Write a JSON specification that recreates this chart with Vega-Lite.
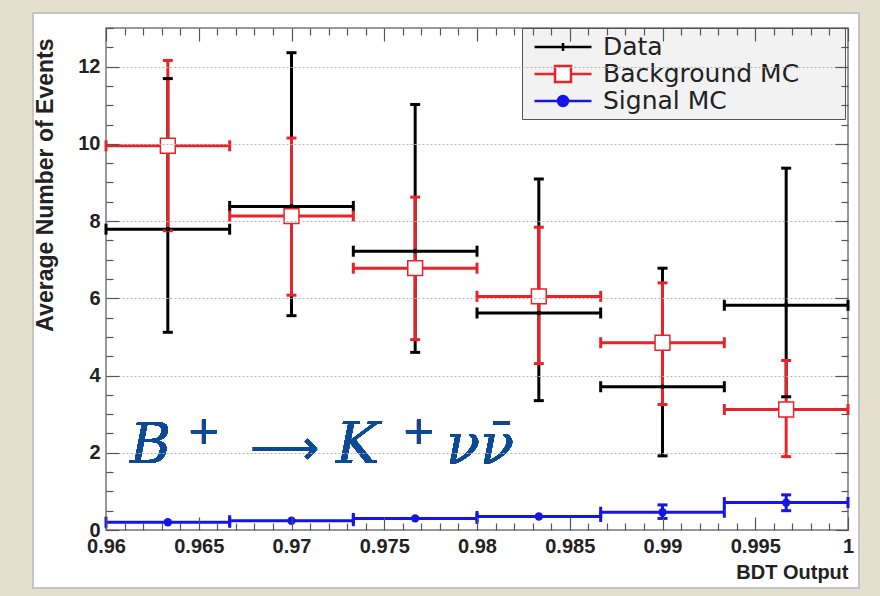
{
  "$schema": "https://vega.github.io/schema/vega-lite/v6.json",
  "width": 742,
  "height": 502,
  "autosize": {"type": "none"},
  "padding": {"left": 106, "top": 28, "right": 32, "bottom": 66},
  "background": "#ffffff",
  "config": {"view": {"stroke": "#777777", "strokeWidth": 1.5}},
  "data": {"values": [
    {"s": "Data", "x": 0.963333, "xlo": 0.96, "xhi": 0.966667, "y": 7.79, "ylo": 5.12, "yhi": 11.69},
    {"s": "Data", "x": 0.97, "xlo": 0.966667, "xhi": 0.973333, "y": 8.38, "ylo": 5.55, "yhi": 12.36},
    {"s": "Data", "x": 0.976667, "xlo": 0.973333, "xhi": 0.98, "y": 7.22, "ylo": 4.6, "yhi": 11.02},
    {"s": "Data", "x": 0.983333, "xlo": 0.98, "xhi": 0.986667, "y": 5.62, "ylo": 3.35, "yhi": 9.09},
    {"s": "Data", "x": 0.99, "xlo": 0.986667, "xhi": 0.993333, "y": 3.71, "ylo": 1.92, "yhi": 6.78},
    {"s": "Data", "x": 0.996667, "xlo": 0.993333, "xhi": 1.0, "y": 5.82, "ylo": 3.45, "yhi": 9.37},
    {"s": "Background MC", "x": 0.963333, "xlo": 0.96, "xhi": 0.966667, "y": 9.95, "ylo": 7.75, "yhi": 12.16},
    {"s": "Background MC", "x": 0.97, "xlo": 0.966667, "xhi": 0.973333, "y": 8.13, "ylo": 6.08, "yhi": 10.15},
    {"s": "Background MC", "x": 0.976667, "xlo": 0.973333, "xhi": 0.98, "y": 6.78, "ylo": 4.93, "yhi": 8.62},
    {"s": "Background MC", "x": 0.983333, "xlo": 0.98, "xhi": 0.986667, "y": 6.05, "ylo": 4.31, "yhi": 7.84},
    {"s": "Background MC", "x": 0.99, "xlo": 0.986667, "xhi": 0.993333, "y": 4.85, "ylo": 3.25, "yhi": 6.4},
    {"s": "Background MC", "x": 0.996667, "xlo": 0.993333, "xhi": 1.0, "y": 3.12, "ylo": 1.9, "yhi": 4.39},
    {"s": "Signal MC", "x": 0.963333, "xlo": 0.96, "xhi": 0.966667, "y": 0.2, "ylo": 0.17, "yhi": 0.23},
    {"s": "Signal MC", "x": 0.97, "xlo": 0.966667, "xhi": 0.973333, "y": 0.24, "ylo": 0.21, "yhi": 0.27},
    {"s": "Signal MC", "x": 0.976667, "xlo": 0.973333, "xhi": 0.98, "y": 0.3, "ylo": 0.27, "yhi": 0.33},
    {"s": "Signal MC", "x": 0.983333, "xlo": 0.98, "xhi": 0.986667, "y": 0.35, "ylo": 0.32, "yhi": 0.38},
    {"s": "Signal MC", "x": 0.99, "xlo": 0.986667, "xhi": 0.993333, "y": 0.46, "ylo": 0.3, "yhi": 0.65},
    {"s": "Signal MC", "x": 0.996667, "xlo": 0.993333, "xhi": 1.0, "y": 0.71, "ylo": 0.5, "yhi": 0.91}
  ]},
  "resolve": {"axis": {"x": "independent", "y": "independent"}},
  "layer": [
    {
      "mark": {"type": "rule", "strokeWidth": 3},
      "encoding": {
        "x": {"field": "xlo", "type": "quantitative",
          "scale": {"domain": [0.96, 1.0], "nice": false, "zero": false},
          "axis": {"orient": "bottom", "zindex": 1, "domain": false, "grid": false,
            "values": [0.96,0.961,0.962,0.963,0.964,0.965,0.966,0.967,0.968,0.969,0.97,0.971,0.972,0.973,0.974,0.975,0.976,0.977,0.978,0.979,0.98,0.981,0.982,0.983,0.984,0.985,0.986,0.987,0.988,0.989,0.99,0.991,0.992,0.993,0.994,0.995,0.996,0.997,0.998,0.999,1.0],
            "labelExpr": "abs(datum.value*200-round(datum.value*200))<0.01 ? format(datum.value, '~g') : ''",
            "labelOverlap": false, "labelFlush": false,
            "labelFont": "Liberation Sans", "labelFontWeight": "bold", "labelFontSize": 20, "labelColor": "#222222", "labelPadding": 19,
            "tickColor": "#555555", "tickWidth": 1.2,
            "tickSize": {"condition": {"test": "abs(datum.value*200-round(datum.value*200))<0.01", "value": -13}, "value": -7},
            "title": "BDT Output", "titleFont": "Liberation Sans", "titleFontWeight": "bold", "titleFontSize": 20, "titleColor": "#222222",
            "titleAnchor": "end", "titleAlign": "right", "titleBaseline": "middle", "titleX": 742, "titleY": 42}},
        "x2": {"field": "xhi"},
        "y": {"field": "y", "type": "quantitative",
          "scale": {"domain": [0, 13], "nice": false, "zero": false},
          "axis": {"orient": "left", "zindex": 1, "domain": false, "grid": true,
            "values": [0,0.5,1,1.5,2,2.5,3,3.5,4,4.5,5,5.5,6,6.5,7,7.5,8,8.5,9,9.5,10,10.5,11,11.5,12,12.5,13],
            "labelExpr": "datum.value % 2 == 0 ? format(datum.value, 'd') : ''",
            "labelOverlap": false, "labelFlush": false,
            "labelFont": "Liberation Sans", "labelFontWeight": "bold", "labelFontSize": 20, "labelColor": "#222222", "labelPadding": 19,
            "tickColor": "#555555", "tickWidth": 1.2,
            "tickSize": {"condition": {"test": "datum.value % 2 == 0", "value": -13}, "value": -7},
            "gridColor": "#b4b4b4", "gridDash": [2, 2], "gridWidth": 1,
            "gridOpacity": {"condition": {"test": "datum.value % 2 == 0 && datum.value > 0 && datum.value < 13", "value": 1}, "value": 0},
            "title": "Average Number of Events", "titleFont": "Liberation Sans", "titleFontWeight": "bold", "titleFontSize": 23, "titleColor": "#222222",
            "titleAngle": 270, "titleAlign": "right", "titleBaseline": "middle", "titleX": -61, "titleY": 10}},
        "color": {"field": "s", "type": "nominal",
          "scale": {"domain": ["Signal MC", "Background MC", "Data"], "range": ["#1515e6", "#e8242a", "#000000"]},
          "legend": null}
      }
    },
    {
      "mark": {"type": "rule", "strokeWidth": 3},
      "encoding": {
        "x": {"field": "x", "type": "quantitative",
          "axis": {"orient": "top", "zindex": 1, "domain": false, "grid": false, "labels": false, "title": null,
            "values": [0.96,0.961,0.962,0.963,0.964,0.965,0.966,0.967,0.968,0.969,0.97,0.971,0.972,0.973,0.974,0.975,0.976,0.977,0.978,0.979,0.98,0.981,0.982,0.983,0.984,0.985,0.986,0.987,0.988,0.989,0.99,0.991,0.992,0.993,0.994,0.995,0.996,0.997,0.998,0.999,1.0],
            "tickColor": "#555555", "tickWidth": 1.2,
            "tickSize": {"condition": {"test": "abs(datum.value*200-round(datum.value*200))<0.01", "value": -13}, "value": -7}}},
        "y": {"field": "ylo", "type": "quantitative",
          "axis": {"orient": "right", "zindex": 1, "domain": false, "grid": false, "labels": false, "title": null,
            "values": [0,0.5,1,1.5,2,2.5,3,3.5,4,4.5,5,5.5,6,6.5,7,7.5,8,8.5,9,9.5,10,10.5,11,11.5,12,12.5,13],
            "tickColor": "#555555", "tickWidth": 1.2,
            "tickSize": {"condition": {"test": "datum.value % 2 == 0", "value": -13}, "value": -7}}},
        "y2": {"field": "yhi"},
        "color": {"field": "s", "type": "nominal", "legend": null}
      }
    },
    {
      "transform": [{"fold": ["xlo", "xhi"], "as": ["end", "xcap"]}],
      "mark": {"type": "tick", "orient": "vertical", "size": 11, "thickness": 3, "opacity": 1},
      "encoding": {
        "x": {"field": "xcap", "type": "quantitative", "axis": null},
        "y": {"field": "y", "type": "quantitative", "axis": null},
        "color": {"field": "s", "type": "nominal", "legend": null}
      }
    },
    {
      "transform": [{"filter": "datum.yhi - datum.ylo > 0.15"}, {"fold": ["ylo", "yhi"], "as": ["end", "ycap"]}],
      "mark": {"type": "tick", "orient": "horizontal", "size": 10, "thickness": 3, "opacity": 1},
      "encoding": {
        "x": {"field": "x", "type": "quantitative", "axis": null},
        "y": {"field": "ycap", "type": "quantitative", "axis": null},
        "color": {"field": "s", "type": "nominal", "legend": null}
      }
    },
    {
      "transform": [{"filter": "datum.s === 'Data'"}],
      "mark": {"type": "point", "shape": "circle", "filled": true, "color": "#000000", "size": 22, "opacity": 1},
      "encoding": {
        "x": {"field": "x", "type": "quantitative", "axis": null},
        "y": {"field": "y", "type": "quantitative", "axis": null}
      }
    },
    {
      "transform": [{"filter": "datum.s === 'Background MC'"}],
      "mark": {"type": "point", "shape": "square", "fill": "#ffffff", "stroke": "#e8242a", "strokeWidth": 1.5, "size": 220, "opacity": 1},
      "encoding": {
        "x": {"field": "x", "type": "quantitative", "axis": null},
        "y": {"field": "y", "type": "quantitative", "axis": null}
      }
    },
    {
      "transform": [{"filter": "datum.s === 'Signal MC'"}],
      "mark": {"type": "point", "shape": "circle", "filled": true, "color": "#1515e6", "size": 70, "opacity": 1},
      "encoding": {
        "x": {"field": "x", "type": "quantitative", "axis": null},
        "y": {"field": "y", "type": "quantitative", "axis": null}
      }
    },
    {
      "mark": {"type": "point", "opacity": 0, "strokeWidth": 2.5},
      "encoding": {
        "x": {"field": "x", "type": "quantitative", "axis": null},
        "y": {"field": "y", "type": "quantitative", "axis": null},
        "fill": {"field": "s", "type": "nominal",
          "scale": {"domain": ["Data", "Background MC", "Signal MC"], "range": ["#000000", "#ffffff", "#1515e6"]},
          "legend": {"title": "\u2003", "titleOrient": "right", "titleFontSize": 10, "titlePadding": 41, "orient": "none", "legendX": 416, "legendY": 0,
            "symbolSize": 625, "symbolStrokeWidth": 2.5, "symbolOpacity": 1, "symbolOffset": 22,
            "labelFont": "DejaVu Sans", "labelFontSize": 25, "labelColor": "#222222", "labelOffset": 26, "labelLimit": 400,
            "fillColor": "#f2f2f2", "strokeColor": "#555555", "padding": 5, "rowPadding": 0}},
        "stroke": {"field": "s", "type": "nominal",
          "scale": {"domain": ["Data", "Background MC", "Signal MC"], "range": ["#000000", "#e8242a", "#1515e6"]},
          "legend": {"title": "\u2003", "titleOrient": "right", "titleFontSize": 10, "titlePadding": 41, "orient": "none", "legendX": 416, "legendY": 0,
            "symbolSize": 625, "symbolStrokeWidth": 2.5, "symbolOpacity": 1, "symbolOffset": 22,
            "labelFont": "DejaVu Sans", "labelFontSize": 25, "labelColor": "#222222", "labelOffset": 26, "labelLimit": 400,
            "fillColor": "#f2f2f2", "strokeColor": "#555555", "padding": 5, "rowPadding": 0}},
        "shape": {"field": "s", "type": "nominal",
          "scale": {"domain": ["Data", "Background MC", "Signal MC"], "range": ["M-2.28,0H2.28M0,-0.32V0.32", "M-2.28,0H-0.64M0.64,0H2.28M-0.64,-0.64H0.64V0.64H-0.64Z", "M-2.28,0H2.28M0.4,0A0.4,0.4,0,1,1,-0.4,0A0.4,0.4,0,1,1,0.4,0Z"]},
          "legend": {"title": "\u2003", "titleOrient": "right", "titleFontSize": 10, "titlePadding": 41, "orient": "none", "legendX": 416, "legendY": 0,
            "symbolSize": 625, "symbolStrokeWidth": 2.5, "symbolOpacity": 1, "symbolOffset": 22,
            "labelFont": "DejaVu Sans", "labelFontSize": 25, "labelColor": "#222222", "labelOffset": 26, "labelLimit": 400,
            "fillColor": "#f2f2f2", "strokeColor": "#555555", "padding": 5, "rowPadding": 0}}
      }
    },
    {
      "mark": {"type": "text", "align": "left", "baseline": "alphabetic", "font": "DejaVu Serif", "fontStyle": "italic", "fontSize": 56, "color": "#0d4a96"},
      "encoding": {
        "x": {"datum": 0.961294, "type": "quantitative", "axis": null},
        "y": {"datum": 1.735, "type": "quantitative", "axis": null},
        "text": {"value": "B"}
      }
    },
    {
      "mark": {"type": "text", "align": "left", "baseline": "alphabetic", "font": "DejaVu Serif", "fontSize": 40, "color": "#0d4a96"},
      "encoding": {
        "x": {"datum": 0.964367, "type": "quantitative", "axis": null},
        "y": {"datum": 2.227, "type": "quantitative", "axis": null},
        "text": {"value": "+"}
      }
    },
    {
      "mark": {"type": "text", "align": "left", "baseline": "alphabetic", "font": "DejaVu Sans", "fontSize": 48, "color": "#0d4a96"},
      "encoding": {
        "x": {"datum": 0.967763, "type": "quantitative", "axis": null},
        "y": {"datum": 1.7, "type": "quantitative", "axis": null},
        "text": {"value": "\u27f6"}
      }
    },
    {
      "mark": {"type": "text", "align": "left", "baseline": "alphabetic", "font": "DejaVu Serif", "fontStyle": "italic", "fontSize": 58, "color": "#0d4a96"},
      "encoding": {
        "x": {"datum": 0.972399, "type": "quantitative", "axis": null},
        "y": {"datum": 1.735, "type": "quantitative", "axis": null},
        "text": {"value": "K"}
      }
    },
    {
      "mark": {"type": "text", "align": "left", "baseline": "alphabetic", "font": "DejaVu Serif", "fontSize": 40, "color": "#0d4a96"},
      "encoding": {
        "x": {"datum": 0.975957, "type": "quantitative", "axis": null},
        "y": {"datum": 2.227, "type": "quantitative", "axis": null},
        "text": {"value": "+"}
      }
    },
    {
      "mark": {"type": "text", "align": "left", "baseline": "alphabetic", "font": "DejaVu Serif", "fontStyle": "italic", "fontSize": 56, "color": "#0d4a96"},
      "encoding": {
        "x": {"datum": 0.978329, "type": "quantitative", "axis": null},
        "y": {"datum": 1.735, "type": "quantitative", "axis": null},
        "text": {"value": "\u03bd\u03bd\u0304"}
      }
    },
    {
      "mark": {"type": "rect", "fill": null, "fillOpacity": 0, "stroke": "#e4e0d0", "strokeWidth": 80, "clip": false},
      "encoding": {
        "x": {"datum": 0.953908, "type": "quantitative", "axis": null},
        "x2": {"datum": 1.002749},
        "y": {"datum": 14.424, "type": "quantitative", "axis": null},
        "y2": {"datum": -2.538}
      }
    },
    {
      "mark": {"type": "rect", "fill": null, "fillOpacity": 0, "stroke": "#c4c4c4", "strokeWidth": 1.5, "clip": false},
      "encoding": {
        "x": {"datum": 0.956065, "type": "quantitative", "axis": null},
        "x2": {"datum": 1.000593},
        "y": {"datum": 13.388, "type": "quantitative", "axis": null},
        "y2": {"datum": -1.502}
      }
    }
  ]
}
